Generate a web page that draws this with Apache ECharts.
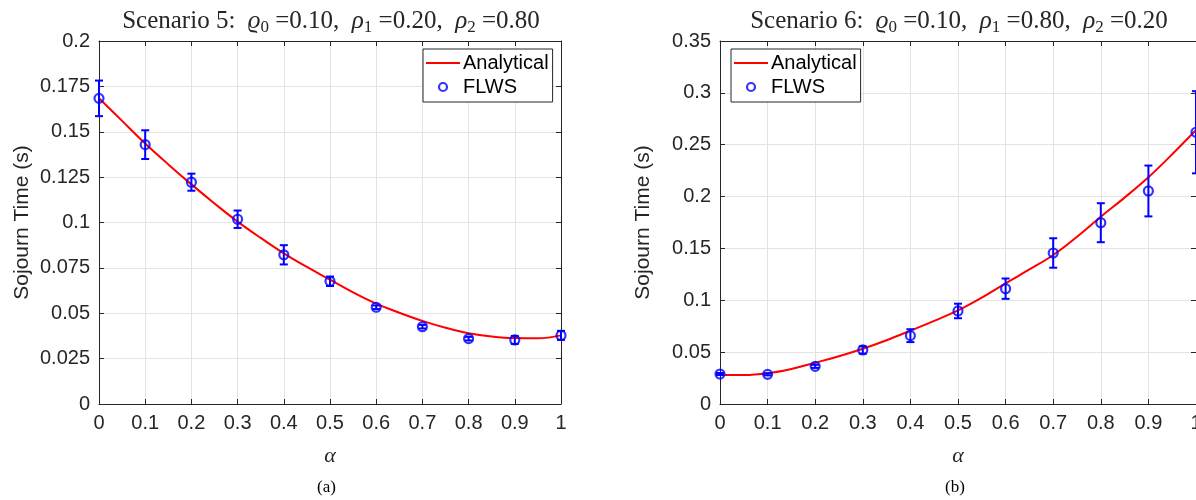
<!DOCTYPE html>
<html><head><meta charset="utf-8">
<script src="https://cdn.jsdelivr.net/npm/echarts@6/dist/echarts.min.js"></script>
<style>html,body{margin:0;padding:0;overflow:hidden;background:#fff;width:1196px;height:500px}#c{width:1210px;height:500px}</style>
</head><body><div id="c"></div>
<script>
// ---- data ----
const alphaTicks = [0, 0.1, 0.2, 0.3, 0.4, 0.5, 0.6, 0.7, 0.8, 0.9, 1];
const curveAlpha = [0,0.05,0.1,0.15,0.2,0.25,0.3,0.35,0.4,0.45,0.5,0.55,0.6,0.65,0.7,0.75,0.8,0.85,0.9,0.95,1];
// Scenario 5
const analytical5 = [0.1685,0.156,0.1435,0.132,0.121,0.1105,0.1005,0.0915,0.083,0.0755,0.0685,0.0615,0.0553,0.0503,0.0458,0.042,0.039,0.0372,0.0363,0.0362,0.0378];
const flws5 = [0.1684,0.1429,0.1222,0.1018,0.0822,0.0676,0.0533,0.0426,0.036,0.0353,0.0378];
const err5  = [0.0098,0.0079,0.0047,0.0048,0.0053,0.0026,0.001,0.001,0.001,0.0022,0.0025];
// Scenario 6
const analytical6 = [0.0283,0.0279,0.0296,0.0338,0.0398,0.0461,0.0533,0.0615,0.0707,0.0802,0.0902,0.1025,0.1164,0.1297,0.1437,0.1613,0.1806,0.199,0.2186,0.2408,0.2642];
const flws6 = [0.0289,0.0286,0.0363,0.0521,0.0659,0.0897,0.1112,0.1456,0.1748,0.2054,0.262];
const err6  = [0.001,0.001,0.0015,0.0035,0.0062,0.007,0.0098,0.0142,0.0188,0.0245,0.0396];

const titles = [
  'Scenario 5:  {i|ϱ}{s|0} {t|=0.10,}  {i|ρ}{s|1} {t|=0.20,}  {i|ρ}{s|2} {t|=0.80}',
  'Scenario 6:  {i|ϱ}{s|0} {t|=0.10,}  {i|ρ}{s|1} {t|=0.80,}  {i|ρ}{s|2} {t|=0.20}'
];
const yMax = [0.2, 0.35];
const yInterval = [0.025, 0.05];

const AX = '#262626', GRID = '#e3e3e3', BLUE = '#0000ff', RED = '#ff0000';
const grids = [
  {left: 99, top: 41, width: 462, height: 363},
  {left: 720, top: 41, width: 476, height: 363}
];
const chart = echarts.init(document.getElementById('c'));
const xAxis = [], yAxis = [], series = [], title = [], legend = [];
const serif = '"Liberation Serif","DejaVu Serif",serif';
const sans = '"Liberation Sans",Arial,sans-serif';

const dataSets = [
  {an: analytical5, fl: flws5, er: err5},
  {an: analytical6, fl: flws6, er: err6}
];

const boxLine = {show: true, onZero: false, lineStyle: {color: AX, width: 1}};
const boxTick = {show: true, inside: true, length: 5, lineStyle: {color: AX}};

for (let g = 0; g < 2; g++) {
  const base = {type: 'value', min: 0, max: 1, interval: 0.1, gridIndex: g};
  xAxis.push(Object.assign({}, base, {
    position: 'bottom', axisLine: boxLine, axisTick: boxTick,
    axisLabel: {fontFamily: sans, fontSize: 20, color: AX, margin: 9,
      formatter: v => String(+v.toFixed(2))},
    splitLine: {show: true, lineStyle: {color: GRID, width: 1}},
    name: 'α', nameLocation: 'middle', nameGap: 41,
    nameTextStyle: {fontFamily: serif, fontStyle: 'italic', fontSize: 22, color: AX}
  }));
  xAxis.push(Object.assign({}, base, {
    position: 'top', axisLine: boxLine, axisTick: boxTick,
    axisLabel: {show: false}, splitLine: {show: false}
  }));
  const ybase = {type: 'value', min: 0, max: yMax[g], interval: yInterval[g], gridIndex: g};
  yAxis.push(Object.assign({}, ybase, {
    position: 'left', axisLine: boxLine, axisTick: boxTick,
    axisLabel: {fontFamily: sans, fontSize: 20, color: AX, margin: 9,
      formatter: v => String(+v.toFixed(3))},
    splitLine: {show: true, lineStyle: {color: GRID, width: 1}},
    name: 'Sojourn Time (s)', nameLocation: 'middle', nameGap: 66,
    nameTextStyle: {fontFamily: sans, fontSize: 21, color: AX}
  }));
  yAxis.push(Object.assign({}, ybase, {
    position: 'right', axisLine: boxLine, axisTick: boxTick,
    axisLabel: {show: false}, splitLine: {show: false}
  }));

  const d = dataSets[g];
  series.push({
    name: 'Analytical', type: 'line', xAxisIndex: 2*g, yAxisIndex: 2*g,
    data: curveAlpha.map((a, i) => [a, d.an[i]]),
    smooth: 0.4, symbol: 'none', showSymbol: false, lineStyle: {color: RED, width: 2}, itemStyle: {color: RED},
    z: 3
  });
  series.push({
    name: 'FLWS-err', type: 'custom', xAxisIndex: 2*g, yAxisIndex: 2*g,
    data: alphaTicks.map((a, i) => [a, d.fl[i] - d.er[i], d.fl[i] + d.er[i]]),
    renderItem: function (params, api) {
      const lo = api.coord([api.value(0), api.value(1)]);
      const hi = api.coord([api.value(0), api.value(2)]);
      const w = 4;
      const st = {stroke: BLUE, lineWidth: 2, fill: null};
      return {type: 'group', children: [
        {type: 'line', shape: {x1: lo[0], y1: lo[1], x2: hi[0], y2: hi[1]}, style: st},
        {type: 'line', shape: {x1: lo[0]-w, y1: lo[1], x2: lo[0]+w, y2: lo[1]}, style: st},
        {type: 'line', shape: {x1: hi[0]-w, y1: hi[1], x2: hi[0]+w, y2: hi[1]}, style: st}
      ]};
    },
    clip: false, z: 4, silent: true
  });
  series.push({
    name: 'FLWS', type: 'scatter', xAxisIndex: 2*g, yAxisIndex: 2*g,
    data: alphaTicks.map((a, i) => [a, d.fl[i]]),
    symbol: 'circle', symbolSize: 9,
    itemStyle: {color: 'rgba(0,0,0,0)', borderColor: BLUE, borderWidth: 2.2},
    z: 5
  });

  const cx = grids[g].left + grids[g].width / 2 - 4;
  title.push({
    text: titles[g], left: cx, top: 1, textAlign: 'center',
    textStyle: {
      fontFamily: serif, fontSize: 25, color: AX, fontWeight: 'normal',
      rich: {
        i: {fontFamily: serif, fontStyle: 'italic', fontSize: 25, color: AX, lineHeight: 30, verticalAlign: 'middle'},
        s: {fontFamily: serif, fontSize: 17, color: AX, lineHeight: 30, verticalAlign: 'bottom'},
        t: {fontFamily: serif, fontSize: 25, color: AX, lineHeight: 30, verticalAlign: 'middle'}
      }
    }
  });
  legend.push({
    orient: 'vertical',
    left: g === 0 ? 423 : 731, top: 49,
    backgroundColor: '#fff', borderColor: AX, borderWidth: 1, borderRadius: 0,
    padding: [4, 4, 5, 3], itemGap: 4, itemWidth: 34, itemHeight: 8,
    textStyle: {fontFamily: sans, fontSize: 20, color: '#000', padding: [0,0,0,-2]},
    data: [
      {name: 'Analytical', icon: 'path://M0,0L40,0L40,2.4L0,2.4Z', itemStyle: {color: RED}},
      {name: 'FLWS', icon: 'circle', itemStyle: {color: 'rgba(0,0,0,0)', borderColor: BLUE, borderWidth: 2.2}}
    ]
  });
}

chart.setOption({
  animation: false,
  backgroundColor: '#fff',
  grid: grids,
  title: title,
  legend: legend,
  xAxis: xAxis,
  yAxis: yAxis,
  series: series,
  graphic: [
    {type: 'text', left: 317, top: 479, style: {text: '(a)', font: '17px "Liberation Serif", serif', fill: '#000'}},
    {type: 'text', left: 945, top: 479, style: {text: '(b)', font: '17px "Liberation Serif", serif', fill: '#000'}}
  ]
});
</script></body></html>
